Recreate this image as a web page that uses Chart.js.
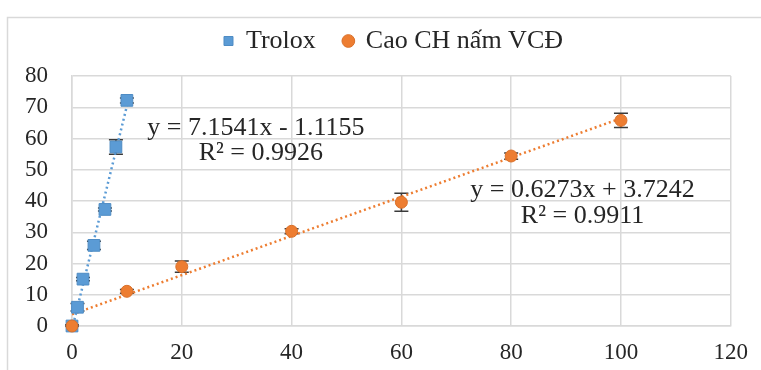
<!DOCTYPE html>
<html>
<head>
<meta charset="utf-8">
<script src="https://cdn.jsdelivr.net/npm/chart.js@4.4.0/dist/chart.umd.min.js"></script>
<style>
html, body { margin: 0; padding: 0; background: #fff; }
#wrap { width: 761px; height: 370px; }
</style>
</head>
<body>
<div id="wrap"><canvas id="dpph"></canvas></div>
<script>
// Trolox standard
const troloxConc = [0, 1, 2, 4, 6, 8, 10];
const troloxInhib = [0, 6, 15, 25.8, 37.3, 57.3, 72.2];
const troloxErr = [0.4, 1.2, 0.5, 1.3, 0.5, 2.3, 0.8];

// extract
const extractConc = [0, 10, 20, 40, 60, 80, 100];
const extractInhib = [0, 11.1, 19.0, 30.3, 39.6, 54.4, 65.8];
const extractErr = [0.3, 0.6, 1.8, 0.8, 2.9, 1.0, 2.3];

// trend lines as printed on the chart
const troloxFit = [7.1541, -1.1155, 0.9926];
const extractFit = [0.6273, 3.7242, 0.9911];

const xTickValues = [0, 20, 40, 60, 80, 100, 120];
const yTickValues = [0, 10, 20, 30, 40, 50, 60, 70, 80];

const blue = '#5b9bd5';
const orange = '#ed7d31';
const gridColor = '#d9d9d9';
const textColor = '#262626';
const serif = 'Liberation Serif';

const toPoints = (xs, ys) => xs.map((x, i) => ({ x: x, y: ys[i] }));
const trendPoints = (xs, fit) => {
    const x0 = xs[0], x1 = xs[xs.length - 1];
    return [{ x: x0, y: fit[0] * x0 + fit[1] }, { x: x1, y: fit[0] * x1 + fit[1] }];
};

// legend: more room below it, and nudged right like the original
const legendSpace = {
    id: 'legendSpace',
    beforeInit(chart) {
        const fit = chart.legend.fit;
        chart.legend.fit = function () {
            fit.call(this);
            this.height += 12;
        };
    },
    afterLayout(chart) {
        chart.legend.left += 28;
        chart.legend.right += 28;
    }
};

const frame = {
    id: 'frame',
    beforeDraw(chart) {
        const ctx = chart.ctx;
        ctx.save();
        ctx.strokeStyle = gridColor;
        ctx.lineWidth = 1.5;
        ctx.strokeRect(7.5, 17.5, 800, 400);
        ctx.restore();
    }
};

const errorBars = {
    id: 'errorBars',
    beforeDatasetsDraw(chart) {
        const { ctx, scales: { x, y } } = chart;
        ctx.save();
        ctx.strokeStyle = '#3a3a3a';
        ctx.lineWidth = 1.5;
        [[troloxConc, troloxInhib, troloxErr], [extractConc, extractInhib, extractErr]].forEach(([xs, ys, es]) => {
            xs.forEach((xv, i) => {
                const px = x.getPixelForValue(xv);
                const top = y.getPixelForValue(ys[i] + es[i]);
                const bot = y.getPixelForValue(Math.max(0, ys[i] - es[i]));
                ctx.beginPath();
                ctx.moveTo(px, top); ctx.lineTo(px, bot);
                ctx.moveTo(px - 7, top); ctx.lineTo(px + 7, top);
                ctx.moveTo(px - 7, bot); ctx.lineTo(px + 7, bot);
                ctx.stroke();
            });
        });
        ctx.restore();
    }
};

const fitLabels = {
    id: 'fitLabels',
    afterDatasetsDraw(chart) {
        const { ctx, scales: { x, y } } = chart;
        const lines = [
            ['y = ' + troloxFit[0] + 'x - ' + Math.abs(troloxFit[1]), 33.5, 63.4],
            ['R² = ' + troloxFit[2], 34.4, 55.4],
            ['y = ' + extractFit[0] + 'x + ' + extractFit[1], 93.0, 43.5],
            ['R² = ' + extractFit[2], 93.0, 35.3]
        ];
        ctx.save();
        ctx.font = '26px "' + serif + '"';
        ctx.fillStyle = textColor;
        ctx.textAlign = 'center';
        ctx.textBaseline = 'middle';
        lines.forEach(([t, xv, yv]) => {
            ctx.fillText(t, x.getPixelForValue(xv), y.getPixelForValue(yv));
        });
        ctx.restore();
    }
};

const chart = new Chart(document.getElementById('dpph'), {
    type: 'scatter',
    data: {
        datasets: [
            {
                label: 'Trolox',
                data: toPoints(troloxConc, troloxInhib),
                pointStyle: 'rect',
                pointRadius: 8.3,
                pointHoverRadius: 8.3,
                backgroundColor: blue,
                borderColor: '#4f8cc4',
                borderWidth: 1,
                clip: false,
                order: 0.5,
            },
            {
                label: 'Cao CH nấm VCĐ',
                data: toPoints(extractConc, extractInhib),
                pointStyle: 'circle',
                pointRadius: 6,
                pointHoverRadius: 6,
                backgroundColor: orange,
                borderColor: '#d9702a',
                borderWidth: 1,
                clip: false,
                order: 0,
            },
            {
                label: 'trend',
                type: 'line',
                data: trendPoints(troloxConc, troloxFit),
                borderColor: blue,
                borderWidth: 2.5,
                borderDash: [2, 3],
                pointRadius: 0,
                order: 1,
            },
            {
                label: 'trend',
                type: 'line',
                data: trendPoints(extractConc, extractFit),
                borderColor: orange,
                borderWidth: 2.5,
                borderDash: [2, 3],
                pointRadius: 0,
                order: 1,
            }
        ]
    },
    options: {
        responsive: true,
        maintainAspectRatio: false,
        animation: false,
        layout: { padding: { left: 0, right: 30, top: 0, bottom: 0 } },
        plugins: {
            tooltip: { enabled: false },
            legend: {
                position: 'top',
                labels: {
                    usePointStyle: true,
                    boxHeight: 9,
                    boxWidth: 9,
                    padding: 28,
                    color: textColor,
                    font: { family: serif, size: 26 },
                    filter: (item) => item.text !== 'trend',
                    sort: (a, b) => a.datasetIndex - b.datasetIndex,
                }
            }
        },
        scales: {
            x: {
                type: 'linear',
                min: 0,
                max: 120,
                afterBuildTicks: (s) => { s.ticks = xTickValues.map(v => ({ value: v })); },
                afterFit: (s) => { s.height = 44; },
                ticks: { color: textColor, padding: 13, font: { family: serif, size: 23 } },
                grid: { color: gridColor, lineWidth: 1.5, drawTicks: false },
                border: { color: gridColor, width: 1.5 },
            },
            y: {
                min: 0,
                max: 80,
                afterBuildTicks: (s) => { s.ticks = yTickValues.map(v => ({ value: v })); },
                afterFit: (s) => { s.width = 72; },
                ticks: { color: textColor, padding: 24, font: { family: serif, size: 23 } },
                grid: { color: gridColor, lineWidth: 1.5, drawTicks: false },
                border: { color: gridColor, width: 1.5 },
            }
        }
    },
    plugins: [legendSpace, frame, errorBars, fitLabels]
});
</script>
</body>
</html>
